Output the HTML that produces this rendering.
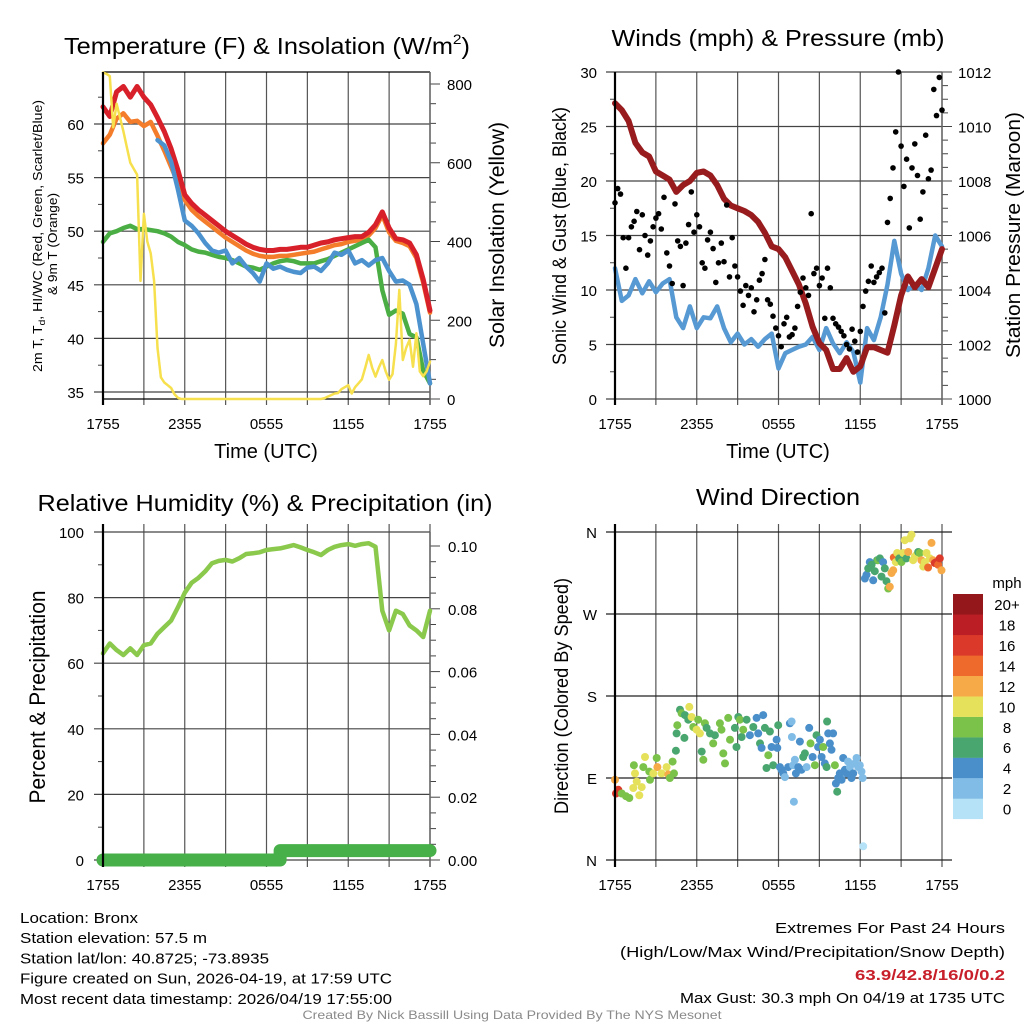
<!DOCTYPE html>
<html><head><meta charset="utf-8">
<style>
html,body{margin:0;padding:0;background:#fff;}
svg{display:block;font-family:"Liberation Sans",Arial,sans-serif;}
</style></head>
<body>
<svg id="root" width="1024" height="1024" viewBox="0 0 1024 1024" xmlns="http://www.w3.org/2000/svg"></svg>
<script>
// ---------- data (half-hourly unless noted; hours from 1755 UTC) ----------
const xTickLabels = ["1755","2355","0555","1155","1755"];
const xTickHours = [0,6,12,18,24];
const tempRed = [61.6,60.7,63,63.5,62.5,63.5,62.5,61.8,60.6,59.3,57.7,55.7,53.4,52.6,52,51.5,51,50.5,50,49.6,49.2,48.8,48.5,48.3,48.2,48.2,48.3,48.3,48.4,48.5,48.5,48.7,48.9,49,49.2,49.3,49.4,49.5,49.5,49.9,50.6,51.8,50.3,49.3,49.2,48.9,47.8,45.5,42.6];
const temp9m = [58.2,59,60.5,61,60.2,60.3,59.8,60.2,58.9,57.5,56,54.5,52.9,52,51.4,50.9,50.4,49.9,49.4,49,48.6,48.2,47.9,47.7,47.6,47.6,47.7,47.7,47.8,47.9,48,48.1,48.3,48.5,48.7,48.8,49,49.1,49.2,49.6,50.3,51.5,49.9,49.1,48.9,48.6,47.5,45.2,42.4];
const heatIndex = [null,null,null,null,null,null,null,null,58.5,58,56.5,53.9,51,50.5,49.8,48.9,48.2,48,48.2,47,47.5,46.7,46.1,45.3,47,46.5,46.7,46.4,46.2,46.1,46.6,46.7,46.3,47,48,47.8,48.2,47,47.3,46.8,47.3,47.5,46.3,45.3,45.4,45,43.2,39.5,35.8];
const dewPoint = [49,49.8,50,50.3,50.5,50.2,50.2,50.1,50,49.8,49.5,49,48.7,48.3,48.1,48,47.8,47.6,47.5,47.3,47,46.7,46.6,46.4,46.7,47,47.2,47.3,47.2,47,47,47,47.2,47.4,47.7,48,48.3,48.6,48.9,49.2,48.5,44.5,42.2,42.6,42.3,40.4,40.1,37,35.8];
// solar insolation, quarter-hourly
const solar = [829,826,820,690,750,715,680,640,600,585,570,300,470,400,370,300,130,55,42,35,28,12,3,0]
  .concat(Array(41).fill(0))
  .concat([2,6,10,14,15,25,30,35,14,30,40,50,80,112,80,57,80,99,70,49,63,140,277,99,130,150,82,167,70,58,70,95]);
const windSpeed = [12,9,9.5,11,9.7,10.8,9.8,10.6,11,7.5,6.5,8.5,6.5,7.5,7.4,8.5,6.5,5.2,6,5,5.5,4.8,5.5,6,2.8,4.2,4.5,4.8,5,5.7,4.5,6.5,5.1,4.2,5.2,4.3,1.5,6.5,5.4,7.5,10.5,14.5,11.5,10,10.5,10,12,15,14];
const pressure = [1010.85,1010.6,1010.2,1009.4,1009.05,1008.9,1008.35,1008.2,1008.05,1007.6,1007.85,1008.0,1008.3,1008.35,1008.2,1007.85,1007.35,1007.1,1007.0,1006.9,1006.75,1006.5,1006.1,1005.6,1005.5,1005.2,1004.7,1004.2,1003.5,1002.65,1002.05,1001.8,1001.1,1001.1,1001.5,1001.0,1001.2,1001.9,1001.9,1001.8,1001.7,1002.7,1003.8,1004.5,1004.1,1004.4,1004.1,1004.8,1005.5];
// gusts, 5 per hour
const gusts = [18,19.3,18.8,14.8,12, 14.8,15.8,16.3,17.2,13.7, 16.9,15,13.2,14.5,15.8, 16.6,17,15.6,18.5,13.4, 12.2,10.6,17.9,14.5,14, 10.4,14.3,16,19,15.3, 16.9,15.8,12.5,12,14.6, 15.3,13.8,10.7,12.5,14.3, 12.6,17.8,11.2,14.8,12.2, 11.2,9.9,8.6,10.4,9.5, 10.2,8,9.1,10.9,11.5, 12.8,9.1,8.7,7.6,6.5, 5.8,4.8,6.9,7.5,5.7, 5.9,6.5,8.5,9.8,11.1, 10.2,9.5,17,11.5,12, 10.4,11.1,7.4,12,10.2, 7.4,6.9,6.6,6.2,5.8, 5,4.6,6.4,5.3,4.3, 6.2,8.5,9.9,10.8,12.2, 10.7,11.2,11.6,12,7.9, 16.2,18.4,21.2,24.5,30, 23.2,19.5,22,15.7,21.2, 23.4,20.5,16.5,19,24.2, 20.2,21,28.4,26,29.5, 26.5];
const humidity = [63,66,64,62.5,64.5,62.5,65.5,66,69,71,73,77,81.5,84.5,86,88,90.5,91.2,91.5,91,92,93.3,93.5,93.8,94.5,94.8,95,95.5,96,95.3,94.5,93.8,93,94.5,95.5,96,96.3,95.8,96.3,96.6,95.5,76,70,76,75,71.5,70,68,76];
const precip = [0,0,0,0,0,0,0,0,0,0,0,0,0,0,0,0,0,0,0,0,0,0,0,0,0,0,0.003,0.003,0.003,0.003,0.003,0.003,0.003,0.003,0.003,0.003,0.003,0.003,0.003,0.003,0.003,0.003,0.003,0.003,0.003,0.003,0.003,0.003,0.003];
const dirHours = [0,0.07,0.24,0.49,0.81,1.05,1.34,1.59,1.78,1.96,1.47,1.39,2.08,2.2,2.52,2.57,2.81,3.06,3.11,3.42,3.79,3.91,4.03,4.23,4.33,4.47,
 4.77,4.89,5.13,5.38,5.45,5.62,4.57,4.52,5.09,5.75,5.99,6.11,6.23,6.36,6.48,6.6,6.72,6.97,7.21,7.33,7.7,7.82,7.95,8.07,8.31,8.44,8.8,8.92,9.05,9.17,9.29,9.41,9.66,9.9,10.15,10.39,10.51,10.64,10.76,10.88,11.0,11.12,11.25,11.37,11.49,11.61,11.86,11.91,11.98,12.1,12.22,12.35,12.47,12.71,12.84,12.96,12.98,13.08,13.13,13.2,13.28,13.45,13.57,13.69,13.81,13.94,14.06,14.25,14.35,14.5,14.67,14.79,14.91,15.04,15.16,15.28,15.4,15.53,15.57,15.65,15.77,15.89,16.01,16.14,16.21,16.31,16.38,16.5,16.63,16.75,16.87,16.99,17.11,17.24,17.36,17.48,17.6,17.73,17.85,17.97,18.09,18.17,18.22,
 18.34,18.46,18.58,18.7,18.83,18.95,19.07,19.24,19.32,19.44,19.56,19.68,19.8,19.93,20.05,20.17,20.29,20.42,20.46,20.61,20.71,20.86,21.03,21.15,21.27,21.39,21.52,21.64,21.76,21.88,22.0,22.13,22.25,22.37,22.49,22.62,22.74,22.86,22.98,23.11,23.23,23.35,23.47,23.59,23.72,23.84,23.96];
const dirDegrees = [88,73,77,73,70,68,79,86,71,80,95,104,102,113,97,88,95,112,102,95,102,94,90,108,95,120,
 165,161,159,154,168,157,148,139,134,146,143,154,139,119,110,150,145,139,128,137,150,143,117,106,156,132,145,124,157,154,135,143,154,137,146,156,139,128,123,159,145,101,115,141,124,104,132,123,148,102,99,95,91,102,150,152,135,104,64,110,95,102,130,99,113,117,102,145,128,113,104,137,124,132,113,124,106,102,152,139,128,121,139,104,84,75,90,95,88,112,99,95,108,102,90,95,106,112,102,104,97,90,15,
 309,313,320,327,324,307,317,329,329,331,311,327,320,306,298,300,315,318,332,327,337,331,327,337,351,331,338,353,357,329,333,335,338,337,329,322,327,337,321,331,348,329,326,327,324,331,318];
const dirSpeeds = [12,15,15,8,8,8,10,10,10,10,10,8,8,10,8,8,10,8,12,10,10,12,8,8,8,6,
 6,8,6,6,10,10,8,6,6,8,10,8,10,6,8,8,6,6,8,6,8,8,8,8,8,8,6,6,6,8,6,8,6,4,6,4,4,6,4,4,6,6,8,6,4,6,4,4,6,4,4,4,2,4,4,2,2,2,2,2,4,4,4,4,6,6,2,4,8,4,8,6,4,4,4,8,4,6,6,4,4,4,4,8,4,6,4,4,4,4,4,4,2,2,4,4,2,2,2,2,2,2,0,
 4,4,6,4,6,4,6,6,8,6,6,4,6,6,8,12,12,12,14,10,10,6,8,10,10,6,12,10,10,10,10,10,6,8,12,10,10,10,14,10,12,12,16,16,14,16,12];
const speedColors = ["#b5e2f7","#80bce6","#4a8fc9","#4aa66f","#7bc24b","#e6e15a","#f6aa48","#ee6a2c","#db3a2b","#bb1e25","#94171b"];
const speedLabels = ["0","2","4","6","8","10","12","14","16","18","20+"];

// ---------- helpers ----------
const NS = "http://www.w3.org/2000/svg";
const root = document.getElementById("root");
function mk(tag, attrs, name, parent) {
  const e = document.createElementNS(NS, tag);
  for (const k in attrs) e.setAttribute(k, attrs[k]);
  
  
  (parent || root).appendChild(e);
  return e;
}
function txt(x, y, s, size, anchor, name, extra) {
  const a = {x: x, y: y, 'font-size': size, 'text-anchor': anchor || 'start', fill: '#000'};
  if (extra) for (const k in extra) a[k] = extra[k];
  const t = mk('text', a, name);
  t.textContent = s;
  return t;
}
function line(x1, y1, x2, y2, stroke, w, name) {
  return mk('line', {x1: x1, y1: y1, x2: x2, y2: y2, stroke: stroke, 'stroke-width': w}, name);
}
function pathFrom(vals, step, xf, yf) {
  let d = '', pen = false;
  vals.forEach((v, i) => {
    if (v === null) { pen = false; return; }
    d += (pen ? 'L' : 'M') + xf(i * step).toFixed(1) + ',' + yf(v).toFixed(1);
    pen = true;
  });
  return d;
}
function series(vals, step, xf, yf, color, w, name) {
  return mk('path', {d: pathFrom(vals, step, xf, yf), fill: 'none', stroke: color, 'stroke-width': w, 'stroke-linejoin': 'round', 'stroke-linecap': 'round'}, name);
}
function vertGrid(xf, y0, y1, tickEnd, prefix) {
  for (let h = 0; h <= 24; h += 3) {
    line(xf(h), y0, xf(h), tickEnd, '#555', 1.2, prefix + '-vgrid');
  }
  xTickHours.forEach((h, i) => {
    txt(xf(h), y1 + 30, xTickLabels[i], 15, 'middle', prefix + '-x-tick-label');
  });
}

// ================= Panel 1: temperature =================
const x1f = h => 103 + h * 13.625;
const yT = t => 392 - (t - 35) * 10.72;
const yS = s => 399 - s * 0.39375;
const tt = txt(267, 54, '', 23, 'middle', 'temp-chart-title', {textLength: 406, lengthAdjust: 'spacingAndGlyphs'});
tt.innerHTML = 'Temperature (F) &amp; Insolation (W/m<tspan font-size="14" dy="-10">2</tspan><tspan dy="10">)</tspan>';
vertGrid(x1f, 72, 399, 405, 'temp');
[35,40,45,50,55,60].forEach(v => {
  line(94, yT(v), 430, yT(v), '#444', 1.2, 'temp-hgrid');
  txt(84, yT(v) + 6, String(v), 15, 'end', 'temp-y-tick-label');
});
[37.5,42.5,47.5,52.5,57.5,62.5].forEach(v => line(98, yT(v), 103, yT(v), '#444', 1, 'temp-minor-tick'));
for (let s = 0; s <= 800; s += 50) line(430, yS(s), s % 200 === 0 ? 440 : 436, yS(s), '#444', 1, 'solar-tick');
[0,200,400,600,800].forEach(s => txt(447, yS(s) + 6, String(s), 15, 'start', 'solar-tick-label'));
line(103, 72, 430, 72, '#000', 1.2, 'temp-top-border');
line(103, 399, 430, 399, '#000', 1.2, 'temp-bottom-axis');
line(430, 72, 430, 405, '#666', 1.5, 'temp-right-axis');
series(temp9m, 0.5, x1f, yT, '#f47d2c', 4.5, 'temp-9m-line');
series(tempRed, 0.5, x1f, yT, '#d7202a', 5, 'temp-2m-line');
series(dewPoint, 0.5, x1f, yT, '#4bae45', 4.5, 'dewpoint-line');
series(heatIndex, 0.5, x1f, yT, '#4b92cf', 4.5, 'heat-index-line');
series(solar, 0.25, x1f, yS, '#f7e04d', 2.5, 'solar-line');
line(103, 72, 103, 405, '#000', 2.2, 'temp-left-axis');
txt(266, 458, 'Time (UTC)', 20, 'middle', 'temp-x-axis-title');
const tl = txt(0, 0, '', 12.5, 'middle', 'temp-y-axis-title', {transform: 'translate(42,236) rotate(-90)', textLength: 272, lengthAdjust: 'spacingAndGlyphs'});
tl.innerHTML = '2m T, T<tspan font-size="9" dy="3">d</tspan><tspan dy="-3">, HI/WC (Red, Green, Scarlet/Blue)</tspan>';
txt(0, 0, '& 9m T (Orange)', 12.5, 'middle', 'temp-y-axis-title-line2', {transform: 'translate(57,244) rotate(-90)', textLength: 102, lengthAdjust: 'spacingAndGlyphs'});
txt(0, 0, 'Solar Insolation (Yellow)', 21, 'middle', 'solar-axis-title', {transform: 'translate(504,235) rotate(-90)', textLength: 226, lengthAdjust: 'spacingAndGlyphs'});

// ================= Panel 2: winds & pressure =================
const x2f = h => 615 + h * 13.625;
const yW = v => 399 - v * 10.9;
const yP = p => 399 - (p - 1000) * 27.25;
txt(778, 46, 'Winds (mph) & Pressure (mb)', 23, 'middle', 'wind-chart-title', {textLength: 333, lengthAdjust: 'spacingAndGlyphs'});
vertGrid(x2f, 72, 399, 405, 'wind');
[0,5,10,15,20,25,30].forEach(v => {
  line(606, yW(v), 942, yW(v), '#444', 1.2, 'wind-hgrid');
  txt(597, yW(v) + 6, String(v), 15, 'end', 'wind-y-tick-label');
});
[2.5,7.5,12.5,17.5,22.5,27.5].forEach(v => line(610, yW(v), 615, yW(v), '#444', 1, 'wind-minor-tick'));
for (let p = 1000; p <= 1012; p += 0.5) line(942, yP(p), p % 2 === 0 ? 952 : 948, yP(p), '#444', 1, 'pressure-tick');
[1000,1002,1004,1006,1008,1010,1012].forEach(p => txt(958, yP(p) + 6, String(p), 15, 'start', 'pressure-tick-label'));
line(942, 72, 942, 405, '#666', 1.5, 'wind-right-axis');
series(windSpeed, 0.5, x2f, yW, '#5799d3', 4.5, 'wind-speed-line');
series(pressure, 0.5, x2f, yP, '#981b1e', 6, 'pressure-line');
gusts.forEach((g, i) => {
  const c = mk('circle', {cx: x2f(i * 0.2).toFixed(1), cy: yW(g).toFixed(1), r: 2.8, fill: '#000'}, 'gust-point');
});
line(615, 72, 615, 405, '#000', 2.2, 'wind-left-axis');
txt(778, 458, 'Time (UTC)', 20, 'middle', 'wind-x-axis-title');
txt(0, 0, 'Sonic Wind & Gust (Blue, Black)', 19, 'middle', 'wind-y-axis-title', {transform: 'translate(566,236) rotate(-90)', textLength: 258, lengthAdjust: 'spacingAndGlyphs'});
txt(0, 0, 'Station Pressure (Maroon)', 20, 'middle', 'pressure-axis-title', {transform: 'translate(1020,235) rotate(-90)', textLength: 246, lengthAdjust: 'spacingAndGlyphs'});

// ================= Panel 3: humidity & precip =================
const yRH = r => 860 - r * 3.28;
const yPr = p => 860 - p * 3140;
txt(265, 511, 'Relative Humidity (%) & Precipitation (in)', 23, 'middle', 'humidity-chart-title', {textLength: 455, lengthAdjust: 'spacingAndGlyphs'});
vertGrid(x1f, 524, 860, 867, 'rh');
[0,20,40,60,80,100].forEach(v => {
  line(94, yRH(v), 430, yRH(v), '#444', 1.2, 'rh-hgrid');
  txt(84, yRH(v) + 6, String(v), 15, 'end', 'rh-y-tick-label');
});
[10,30,50,70,90].forEach(v => line(98, yRH(v), 103, yRH(v), '#444', 1, 'rh-minor-tick'));
for (let k = 0; k <= 20; k++) line(430, yPr(k * 0.005), k % 4 === 0 ? 440 : 436, yPr(k * 0.005), '#444', 1, 'precip-tick');
['0.00','0.02','0.04','0.06','0.08','0.10'].forEach((s, i) => txt(448, yPr(i * 0.02) + 6, s, 15, 'start', 'precip-tick-label'));
line(430, 532, 430, 867, '#666', 1.5, 'rh-right-axis');
series(humidity, 0.5, x1f, yRH, '#8bc94d', 4.5, 'humidity-line');
(function () {
  let d = '';
  precip.forEach((p, i) => {
    const x = x1f(i * 0.5), y = yPr(p);
    if (i === 0) d += 'M' + x + ',' + y;
    else d += 'L' + x + ',' + yPr(precip[i - 1]) + 'L' + x + ',' + y;
  });
  mk('path', {d: d, fill: 'none', stroke: '#47b048', 'stroke-width': 13, 'stroke-linecap': 'round', 'stroke-linejoin': 'round'}, 'precip-line');
})();
line(103, 524, 103, 867, '#000', 2.2, 'rh-left-axis');
txt(0, 0, 'Percent & Precipitation', 22, 'middle', 'rh-y-axis-title', {transform: 'translate(45,697) rotate(-90)', textLength: 213, lengthAdjust: 'spacingAndGlyphs'});

// ================= Panel 4: wind direction =================
const yD = d => 860 - d * 0.9111;
txt(778, 505, 'Wind Direction', 23, 'middle', 'direction-chart-title', {textLength: 164, lengthAdjust: 'spacingAndGlyphs'});
vertGrid(x2f, 524, 860, 867, 'dir');
['N','E','S','W','N'].forEach((s, i) => {
  line(606, yD(i * 90), 952, yD(i * 90), '#222', 1.2, 'dir-hgrid');
  txt(597, yD(i * 90) + 6, s, 15, 'end', 'dir-y-tick-label');
});
dirHours.forEach((h, i) => {
  const idx = Math.min(10, Math.round(dirSpeeds[i] / 2));
  const c = mk('circle', {cx: x2f(h).toFixed(1), cy: yD(dirDegrees[i]).toFixed(1), r: 4, fill: speedColors[idx]}, 'direction-point');
});
line(615, 524, 615, 867, '#000', 2.2, 'dir-left-axis');
txt(0, 0, 'Direction (Colored By Speed)', 19, 'middle', 'dir-y-axis-title', {transform: 'translate(568,696) rotate(-90)', textLength: 236, lengthAdjust: 'spacingAndGlyphs'});
txt(1007, 588, 'mph', 15, 'middle', 'colorbar-title');
speedColors.forEach((c, i) => {
  const y = 819 - (i + 1) * 20.45;
  mk('rect', {x: 953, y: y.toFixed(1), width: 30, height: 20.6, fill: c}, 'colorbar-swatch');
  txt(1007, y + 16, speedLabels[i], 15, 'middle', 'colorbar-label');
});

// ================= footer =================
const fl = [['Location: Bronx',118],['Station elevation: 57.5 m',187],['Station lat/lon: 40.8725; -73.8935',249],['Figure created on Sun, 2026-04-19, at 17:59 UTC',372],['Most recent data timestamp: 2026/04/19 17:55:00',372]];
fl.forEach((f, i) => txt(20, 923 + i * 20.2, f[0], 15, 'start', 'station-info-line', {textLength: f[1], lengthAdjust: 'spacingAndGlyphs'}));
txt(1005, 933, 'Extremes For Past 24 Hours', 15, 'end', 'extremes-heading', {textLength: 230, lengthAdjust: 'spacingAndGlyphs'});
txt(1005, 957, '(High/Low/Max Wind/Precipitation/Snow Depth)', 15, 'end', 'extremes-legend', {textLength: 385, lengthAdjust: 'spacingAndGlyphs'});
txt(1005, 980, '63.9/42.8/16/0/0.2', 15, 'end', 'extremes-values', {fill: '#c8202b', 'font-weight': 'bold', textLength: 150, lengthAdjust: 'spacingAndGlyphs'});
txt(1005, 1003, 'Max Gust: 30.3 mph On 04/19 at 1735 UTC', 15, 'end', 'max-gust', {textLength: 325, lengthAdjust: 'spacingAndGlyphs'});
txt(512, 1019, 'Created By Nick Bassill Using Data Provided By The NYS Mesonet', 12, 'middle', 'credit-line', {fill: '#8a8a8a', textLength: 419, lengthAdjust: 'spacingAndGlyphs'});
</script>
</body></html>
